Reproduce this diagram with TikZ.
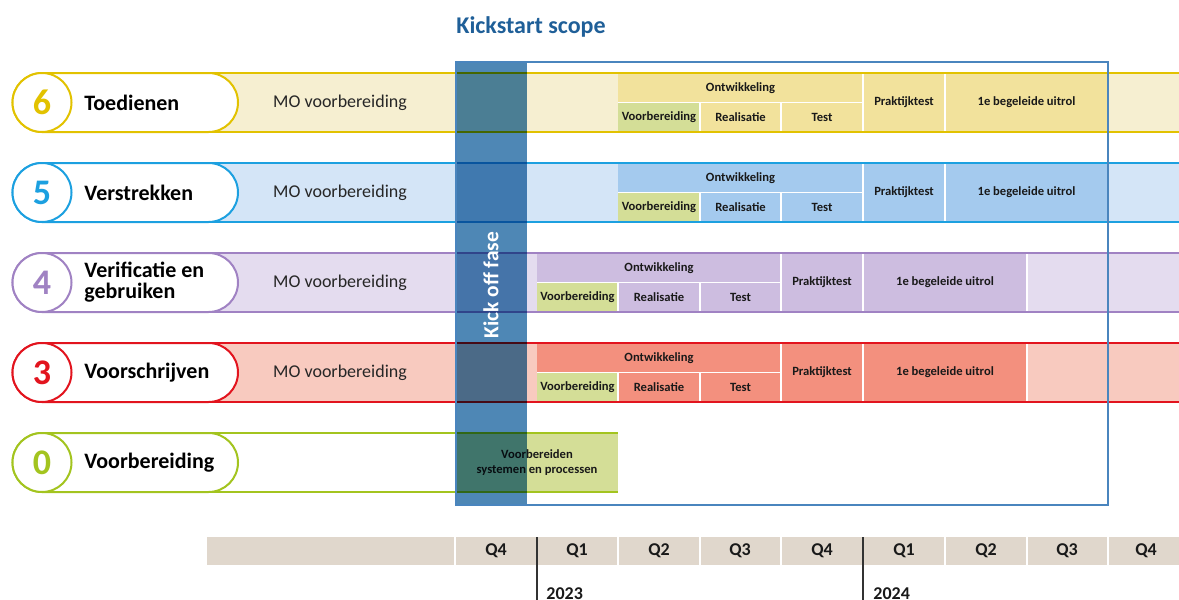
\documentclass[tikz,border=0pt]{standalone}
\usepackage{fontspec}
\setmainfont{Carlito}
\definecolor{yline}{HTML}{E2C200}
\definecolor{ylight}{HTML}{F6EFD1}
\definecolor{ydark}{HTML}{F2E29C}
\definecolor{ynum}{HTML}{D8B800}
\definecolor{bline}{HTML}{1CA0E0}
\definecolor{blight}{HTML}{D4E5F7}
\definecolor{bdark}{HTML}{A4CAEE}
\definecolor{bnum}{HTML}{1E9BD7}
\definecolor{pline}{HTML}{A082C3}
\definecolor{plight}{HTML}{E4DCEF}
\definecolor{pdark}{HTML}{CDBDE0}
\definecolor{pnum}{HTML}{9B7BBE}
\definecolor{rline}{HTML}{E2141E}
\definecolor{rlight}{HTML}{F8CABF}
\definecolor{rdark}{HTML}{F3907E}
\definecolor{rnum}{HTML}{E0141C}
\definecolor{gline}{HTML}{A3C41F}
\definecolor{gcell}{HTML}{D4DE97}
\definecolor{kick}{HTML}{4E87B5}
\definecolor{kickedge}{HTML}{1F3F78}
\definecolor{scopeblue}{HTML}{4A85BE}
\definecolor{titleblue}{HTML}{1F5F98}
\definecolor{beige}{HTML}{E0D7CC}
\newcommand\phrow[7]{% id, top, line, light, number, label, band end
  \fill[#4] (42,#2) rectangle (#7,#2+59);
  \draw[#3, line width=1pt] (42,#2) -- (#7,#2) (42,#2+59) -- (#7,#2+59);
  \filldraw[fill=white, draw=#3, line width=1pt, rounded corners=14.75pt] (12.5,#2) rectangle (238,#2+59);
  \filldraw[fill=white, draw=#3, line width=1pt] (42,#2+29.5) circle[radius=29.5];
  \node[num, text=#3] (n#1) at (42,#2+29.5) {#5};
  \node[lbl] (l#1) at (84,#2+29.5) {#6};
}
\newcommand\devblock[9]{% id, top, dark, a, b, c, d, e, f
  \fill[#3] (#4,#2+1) rectangle (#9,#2+58);
  \fill[gcell] (#4,#2+29.5) rectangle (#5,#2+58);
  \draw[sep] (#4,#2+29.5) -- (#7,#2+29.5);
  \draw[sep] (#5,#2+29.5) -- (#5,#2+58) (#6,#2+29.5) -- (#6,#2+58)
             (#7,#2+1) -- (#7,#2+58) (#8,#2+1) -- (#8,#2+58) (#9,#2+1) -- (#9,#2+58);
  \node[ct] (ont#1) at ({(#4+#7)/2},#2+15.5) {Ontwikkeling};
  \node[ct] (vb#1) at ({(#4+#5)/2},#2+44) {Voorbereiding};
  \node[ct] (re#1) at ({(#5+#6)/2},#2+44) {Realisatie};
  \node[ct] (te#1) at ({(#6+#7)/2},#2+44) {Test};
  \node[ct] (pr#1) at ({(#7+#8)/2},#2+29.5) {Praktijktest};
  \node[ct] (ui#1) at ({(#8+#9)/2},#2+29.5) {1e begeleide uitrol};
}
\begin{document}
\begin{tikzpicture}[x=0.5pt,y=-0.5pt,
  num/.style={font=\bfseries\fontsize{18}{18}\selectfont, inner sep=0},
  lbl/.style={anchor=west, align=left, font=\bfseries\fontsize{11}{10.5}\selectfont, inner sep=0},
  mo/.style={font=\fontsize{9}{9}\selectfont, text=black!85, inner sep=0},
  ct/.style={font=\bfseries\fontsize{6.3}{7.5}\selectfont, text=black!90, inner sep=0, align=center},
  sep/.style={draw=white, line width=0.6pt},
  q/.style={font=\bfseries\fontsize{9}{9}\selectfont, text=black!90, inner sep=0},
]
\useasboundingbox (0,0) rectangle (1179,600);
% rows
\phrow{6}{73}{yline}{ylight}{6}{Toedienen}{1180}
\node[mo] (mo6) at (340,102.5) {MO voorbereiding};
\devblock{6}{73}{ydark}{618}{700}{781}{863}{945}{1108}
\phrow{5}{163}{bline}{blight}{5}{Verstrekken}{1180}
\node[mo] (mo5) at (340,192.5) {MO voorbereiding};
\devblock{5}{163}{bdark}{618}{700}{781}{863}{945}{1108}
\phrow{4}{253}{pline}{plight}{4}{Verificatie en\\gebruiken}{1180}
\node[mo] (mo4) at (340,282.5) {MO voorbereiding};
\devblock{4}{253}{pdark}{537}{618}{700}{781}{863}{1027}
\phrow{3}{343}{rline}{rlight}{3}{Voorschrijven}{1180}
\node[mo] (mo3) at (340,372.5) {MO voorbereiding};
\devblock{3}{343}{rdark}{537}{618}{700}{781}{863}{1027}
\phrow{0}{433}{gline}{white}{0}{Voorbereiding}{618}
\fill[gcell] (456,434) rectangle (618,491);
\node[ct] (vsp) at (537,462.5) {Voorbereiden\\systemen en processen};
% kick off bar
\begin{scope}[blend mode=multiply]
\fill[kick] (456,62) rectangle (527,505);
\end{scope}
\draw[kickedge, line width=0.8pt] (456,62) -- (456,505);
\node[rotate=90, text=white, font=\bfseries\fontsize{10.7}{11}\selectfont, inner sep=0] (kof) at (491,285) {Kick off fase};
% scope box
\draw[scopeblue, line width=0.8pt] (456,62) rectangle (1108,505);
\node[font=\bfseries\fontsize{12}{12}\selectfont, text=titleblue, inner sep=0] (title) at (531,27) {Kickstart scope};
% timeline
\fill[beige] (207,537) rectangle (1179,565);
\foreach \xx in {455,618,700,781,945,1027,1108}
  \draw[white, line width=0.8pt] (\xx,537) -- (\xx,565);
\foreach \xx/\tt/\nm in {496/Q4/a,577/Q1/b,659/Q2/c,740/Q3/d,822/Q4/e,904/Q1/f,986/Q2/g,1067/Q3/h,1146/Q4/i}
  \node[q] (q\nm) at (\xx,551) {\tt};
\draw[black!80, line width=0.7pt] (537,537) -- (537,600);
\draw[black!80, line width=0.7pt] (863,537) -- (863,600);
\node[q, anchor=north west] (y2023) at (546,587) {2023};
\node[q, anchor=north west] (y2024) at (873,587) {2024};
\end{tikzpicture}
\end{document}
